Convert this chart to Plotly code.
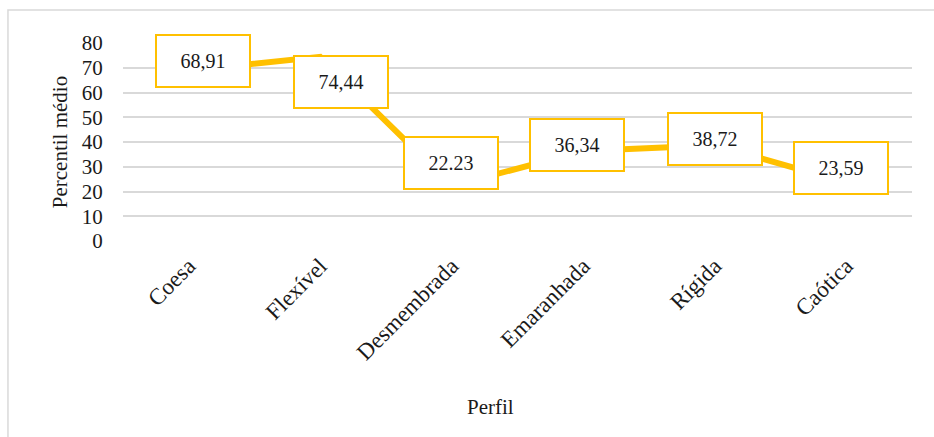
import plotly.graph_objects as go

# Perfil categories and mean percentile values
perfis = ["Coesa", "Flexível", "Desmembrada", "Emaranhada", "Rígida", "Caótica"]
percentil_medio = [68.91, 74.44, 22.23, 36.34, 38.72, 23.59]
rotulos = ["68,91", "74,44", "22.23", "36,34", "38,72", "23,59"]

# pixel offsets of each data-label box from its point
desloc_x = [14, 21, -1, -6, 0, -5]
desloc_y = [9, -25, 23, 6, 6, 15]

GOLD = "#FFC000"
FONT = "Liberation Serif, Times New Roman, serif"
INK = "#1a1a1a"

fig = go.Figure()
fig.add_trace(go.Scatter(
    x=perfis, y=percentil_medio, mode="lines",
    line=dict(color=GOLD, width=6),
    hoverinfo="skip", showlegend=False,
))

for cat, val, txt, dx, dy in zip(perfis, percentil_medio, rotulos, desloc_x, desloc_y):
    fig.add_annotation(
        x=cat, y=val, text=txt, showarrow=False,
        xshift=dx, yshift=dy,
        width=88, height=46, borderpad=2,
        bgcolor="white", bordercolor=GOLD, borderwidth=2,
        font=dict(family=FONT, size=20, color=INK),
    )

# x-axis title
fig.add_annotation(
    xref="paper", yref="paper", x=0.466, y=-0.84,
    text="Perfil", showarrow=False, yanchor="middle",
    font=dict(family=FONT, size=21, color=INK),
)

# chart-area frame
fig.add_shape(
    type="rect", xref="paper", yref="paper",
    x0=-0.1458, x1=1.04, y0=-1.05, y1=1.1667,
    line=dict(color="#D9D9D9", width=1.5), fillcolor="rgba(0,0,0,0)",
    layer="below",
)

fig.update_layout(
    width=934, height=437,
    margin=dict(l=123, r=22, t=43, b=196),
    paper_bgcolor="white", plot_bgcolor="white",
    font=dict(family=FONT, size=20, color=INK),
)

fig.update_xaxes(
    type="category", tickangle=-45, showgrid=False, zeroline=False,
    showline=False, ticks="", ticklabelstandoff=6,
    tickfont=dict(family=FONT, size=23, color=INK),
    range=[-0.5, 5.5],
)
fig.update_yaxes(
    range=[0, 80], tickmode="array", tickvals=list(range(0, 81, 10)),
    showgrid=True, gridcolor="#D9D9D9", gridwidth=2, zeroline=False,
    showline=False, ticks="outside", ticklen=15, tickcolor="rgba(0,0,0,0)",
    tickfont=dict(family=FONT, size=21, color=INK),
    title=dict(text="Percentil médio", standoff=8,
               font=dict(family=FONT, size=21, color=INK)),
)

fig.write_html("out.html")
